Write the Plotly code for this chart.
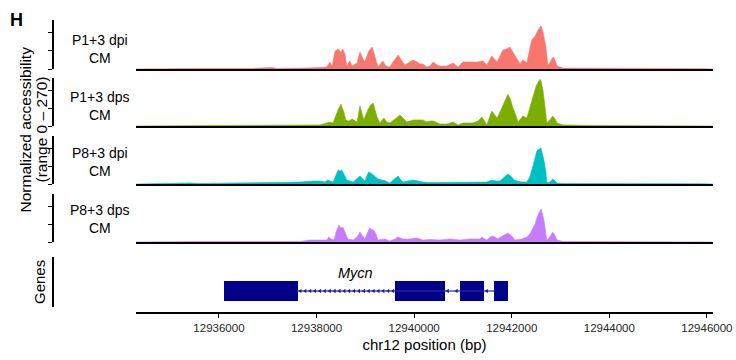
import numpy as np
import plotly.graph_objects as go

# ---------------- data ----------------
track_names = ["P1+3 dpi<br>CM", "P1+3 dps<br>CM", "P8+3 dpi<br>CM", "P8+3 dps<br>CM"]
track_colors = ["#F8766D", "#7CAE00", "#00BFC4", "#C77CFF"]

pos_p1_dpi = [12934300, 12934850, 12935610, 12936640, 12936980, 12937090, 12937190, 12937600, 12937800, 12938070,
              12938210, 12938270, 12938320, 12938380, 12938440, 12938500, 12938540, 12938580, 12938620, 12938680,
              12938730, 12938830, 12938890, 12938950, 12938990, 12939070, 12939140, 12939200, 12939260, 12939360,
              12939420, 12939500, 12939610, 12939670, 12939750, 12939810, 12939910, 12939980, 12940060, 12940120,
              12940180, 12940260, 12940320, 12940390, 12940470, 12940530, 12940670, 12940800, 12940900, 12941000,
              12941140, 12941290, 12941410, 12941490, 12941590, 12941700, 12941820, 12941900, 12941960, 12942020,
              12942110, 12942170, 12942230, 12942310, 12942370, 12942410, 12942480, 12942540, 12942600, 12942640,
              12942700, 12942740, 12942780, 12942820, 12942860, 12942900, 12942930, 12943050, 12943810, 12944830,
              12945860, 12946120]
val_p1_dpi = [0, 3, 3, 3, 5, 8, 3, 3, 5, 8,
              11, 38, 16, 99, 110, 94, 110, 83, 16, 44,
              16, 33, 94, 55, 38, 99, 121, 66, 11, 44,
              16, 11, 55, 77, 44, 22, 38, 50, 38, 28,
              28, 11, 16, 38, 22, 16, 16, 33, 11, 38,
              38, 38, 44, 22, 72, 38, 105, 110, 121, 94,
              60, 28, 50, 33, 110, 160, 182, 215, 237, 204,
              121, 22, 33, 55, 66, 33, 16, 5, 3, 3,
              2, 0]

pos_p1_dps = [12934300, 12935610, 12937600, 12937870, 12938070, 12938210, 12938270, 12938340, 12938380, 12938440,
              12938500, 12938560, 12938600, 12938660, 12938730, 12938790, 12938830, 12938890, 12938930, 12938970,
              12939050, 12939110, 12939160, 12939200, 12939240, 12939300, 12939380, 12939440, 12939500, 12939610,
              12939710, 12939770, 12939850, 12939980, 12940080, 12940180, 12940260, 12940320, 12940390, 12940470,
              12940530, 12940670, 12940800, 12940900, 12941000, 12941200, 12941310, 12941390, 12941450, 12941490,
              12941590, 12941660, 12941700, 12941760, 12941820, 12941920, 12941980, 12942020, 12942090, 12942130,
              12942230, 12942310, 12942370, 12942430, 12942500, 12942540, 12942580, 12942600, 12942640, 12942680,
              12942720, 12942780, 12942840, 12942890, 12942930, 12943050, 12943400, 12943810, 12944630, 12945860,
              12946120]
val_p1_dps = [0, 2, 3, 6, 6, 17, 22, 17, 50, 90,
              123, 78, 34, 28, 39, 28, 22, 112, 67, 34,
              90, 118, 129, 90, 50, 17, 45, 22, 17, 39,
              62, 45, 22, 34, 34, 34, 22, 28, 28, 17,
              11, 11, 22, 6, 17, 17, 28, 50, 22, 6,
              84, 56, 45, 78, 118, 179, 146, 106, 56, 22,
              56, 45, 101, 162, 224, 246, 263, 252, 202, 112,
              17, 34, 56, 39, 17, 6, 3, 3, 2, 2,
              0]

pos_p8_dpi = [12934300, 12934850, 12935100, 12935410, 12935610, 12936780, 12937660, 12937930, 12938070, 12938170,
              12938230, 12938340, 12938400, 12938440, 12938480, 12938520, 12938580, 12938620, 12938750, 12938830,
              12938890, 12938950, 12938990, 12939030, 12939070, 12939140, 12939200, 12939260, 12939340, 12939420,
              12939500, 12939610, 12939670, 12939730, 12939770, 12939870, 12939980, 12940080, 12940180, 12940320,
              12940730, 12941140, 12941490, 12941590, 12941680, 12941760, 12941840, 12941920, 12941980, 12942050,
              12942110, 12942210, 12942310, 12942370, 12942430, 12942480, 12942520, 12942560, 12942600, 12942620,
              12942660, 12942700, 12942720, 12942780, 12942840, 12942890, 12942930, 12943050, 12943810, 12944220,
              12944830, 12945140, 12945860, 12946120]
val_p8_dpi = [0, 3, 6, 6, 3, 6, 11, 17, 17, 11,
              22, 11, 56, 78, 73, 78, 45, 22, 11, 28,
              45, 28, 17, 45, 67, 56, 39, 28, 22, 17,
              6, 28, 45, 22, 11, 17, 22, 17, 11, 8,
              8, 11, 11, 22, 17, 17, 34, 56, 45, 22,
              17, 11, 11, 39, 95, 146, 190, 196, 202, 179,
              134, 67, 6, 11, 28, 17, 6, 3, 3, 6,
              3, 6, 2, 0]

pos_p8_dps = [12934300, 12935610, 12937660, 12937870, 12938070, 12938210, 12938250, 12938300, 12938360, 12938400,
              12938460, 12938500, 12938540, 12938580, 12938640, 12938750, 12938830, 12938890, 12938950, 12938990,
              12939050, 12939090, 12939160, 12939200, 12939260, 12939400, 12939500, 12939610, 12939670, 12939770,
              12939910, 12940060, 12940180, 12940320, 12940530, 12940730, 12940940, 12941140, 12941350, 12941390,
              12941450, 12941490, 12941590, 12941660, 12941700, 12941820, 12941920, 12942000, 12942070, 12942210,
              12942310, 12942370, 12942410, 12942480, 12942520, 12942560, 12942600, 12942620, 12942660, 12942700,
              12942720, 12942780, 12942840, 12942890, 12942930, 12943050, 12943810, 12945860, 12946120]
val_p8_dps = [0, 3, 3, 11, 11, 11, 28, 17, 11, 56,
              95, 78, 84, 56, 17, 11, 28, 56, 34, 17,
              56, 78, 67, 56, 11, 17, 6, 17, 28, 17,
              17, 22, 11, 14, 11, 17, 11, 17, 17, 28,
              17, 11, 34, 28, 17, 34, 50, 34, 11, 17,
              28, 45, 67, 101, 140, 168, 185, 168, 123, 45,
              11, 28, 56, 34, 11, 3, 3, 2, 0]

track_pos = [pos_p1_dpi, pos_p1_dps, pos_p8_dpi, pos_p8_dps]
track_val = [val_p1_dpi, val_p1_dps, val_p8_dpi, val_p8_dps]

exon_start = [12936100, 12939610, 12940940, 12941640]
exon_end = [12937610, 12940630, 12941430, 12941920]
gene_name = "Mycn"
gene_label_pos = 12938790

x_ticks = [12936000, 12938000, 12940000, 12942000, 12944000, 12946000]
x_range = [12934300, 12946125]
y_range = [0, 270]
y_ticks = [0, 100, 200]
y_title_lines = ["Normalized accessibility", "(range 0 \u2013 270)"]

# ---------------- layout helpers ----------------
W, H = 736, 360
def px_x(p):
    return p / W
def px_y(p):
    return 1 - p / H

FONT = "Arial, Liberation Sans, Helvetica, sans-serif"
x_dom = [px_x(136), px_x(713)]
axis_pos = px_x(53)
track_px = [(20, 69), (78, 126), (136, 184), (194, 242)]
label_centers = [49, 106, 162, 219]

fig = go.Figure()
layout = dict(
    width=W, height=H,
    margin=dict(l=0, r=0, t=0, b=0, pad=0),
    paper_bgcolor="white", plot_bgcolor="white",
    showlegend=False,
    font=dict(family=FONT, color="black"),
)
annotations = []

for i in range(4):
    n = i + 1
    xa = "x" if n == 1 else f"x{n}"
    ya = "y" if n == 1 else f"y{n}"
    xk = "xaxis" if n == 1 else f"xaxis{n}"
    yk = "yaxis" if n == 1 else f"yaxis{n}"
    top, bot = track_px[i]
    fig.add_trace(go.Scatter(
        x=track_pos[i], y=track_val[i], mode="lines", fill="tozeroy",
        line=dict(color=track_colors[i], width=0.6), fillcolor=track_colors[i],
        xaxis=xa, yaxis=ya, hoverinfo="skip"))
    layout[xk] = dict(domain=x_dom, range=x_range, anchor=ya, showline=True,
                      linecolor="black", linewidth=1.5, showticklabels=False,
                      ticks="", showgrid=False, zeroline=False, automargin=False)
    layout[yk] = dict(domain=[px_y(bot), px_y(top)], range=y_range, anchor="free",
                      position=axis_pos, showline=True, linecolor="black", linewidth=1.5,
                      tickvals=y_ticks, ticks="outside", ticklen=4, tickwidth=1.3,
                      tickcolor="black", showticklabels=False, showgrid=False,
                      zeroline=False, automargin=False)
    annotations.append(dict(text=track_names[i], xref="paper", yref="paper",
                            x=px_x(100), y=px_y(label_centers[i]), showarrow=False,
                            xanchor="center", yanchor="middle", align="center",
                            font=dict(size=14, family=FONT, color="black")))

# gene track
gene_top, gene_bot = 257, 307
layout["xaxis5"] = dict(domain=x_dom, range=x_range, anchor="free", position=px_y(313),
                        side="bottom", showline=True, linecolor="black", linewidth=1.5,
                        tickvals=x_ticks, ticktext=[str(t) for t in x_ticks],
                        ticks="outside", ticklen=4, tickwidth=1.3, tickcolor="black",
                        tickfont=dict(size=11.5, family=FONT, color="#262626"),
                        showgrid=False, zeroline=False, automargin=False,
                        title=dict(text="chr12 position (bp)", standoff=6,
                                   font=dict(size=15, family=FONT, color="black")))
layout["yaxis5"] = dict(domain=[px_y(gene_bot), px_y(gene_top)], range=[-0.8, 1.7],
                        anchor="free", position=axis_pos, showline=True,
                        linecolor="black", linewidth=1.5, ticks="", showticklabels=False,
                        showgrid=False, zeroline=False, automargin=False)

# intron line
fig.add_trace(go.Scatter(x=[exon_end[0], exon_start[-1]], y=[0, 0], mode="lines",
                         line=dict(color="rgba(40,40,160,0.6)", width=2),
                         xaxis="x5", yaxis="y5", hoverinfo="skip"))
arrow_x = []
for s, e in zip(exon_end[:-1], exon_start[1:]):
    arrow_x += list(np.arange(s + 60, e - 30, 100 if e - s > 1000 else 180))
fig.add_trace(go.Scatter(x=arrow_x, y=[0] * len(arrow_x), mode="markers",
                         marker=dict(symbol="triangle-left", size=4, color="#1a1a9a"),
                         xaxis="x5", yaxis="y5", hoverinfo="skip"))
# exons
fig.add_trace(go.Bar(y=[0] * len(exon_start), x=[e - s for s, e in zip(exon_start, exon_end)],
                     base=exon_start, orientation="h", width=1,
                     marker=dict(color="#00008B", line=dict(width=0)),
                     xaxis="x5", yaxis="y5", hoverinfo="skip"))
annotations.append(dict(text=f"<i>{gene_name}</i>", xref="x5", yref="y5",
                        x=gene_label_pos, y=0.9, showarrow=False,
                        xanchor="center", yanchor="middle",
                        font=dict(size=14.5, family=FONT, color="black")))

# left titles
for line_text, cx in zip(y_title_lines, [24.5, 40.5]):
    annotations.append(dict(text=line_text, xref="paper", yref="paper",
                            x=px_x(cx), y=px_y(130), textangle=-90, showarrow=False,
                            xanchor="center", yanchor="middle", align="center",
                            font=dict(size=15.5, family=FONT, color="black")))
annotations.append(dict(text="Genes", xref="paper", yref="paper",
                        x=px_x(39), y=px_y(282), textangle=-90, showarrow=False,
                        xanchor="center", yanchor="middle",
                        font=dict(size=15, family=FONT, color="black")))
annotations.append(dict(text="<b>H</b>", xref="paper", yref="paper",
                        x=px_x(16.5), y=px_y(19.5), showarrow=False,
                        xanchor="center", yanchor="middle",
                        font=dict(size=18, family=FONT, color="black")))

layout["annotations"] = annotations
layout["bargap"] = 0
fig.update_layout(**layout)
fig.write_html("out.html", config={"responsive": False, "displayModeBar": False},
               post_script="document.body.style.margin='0';document.body.style.overflow='hidden';")
